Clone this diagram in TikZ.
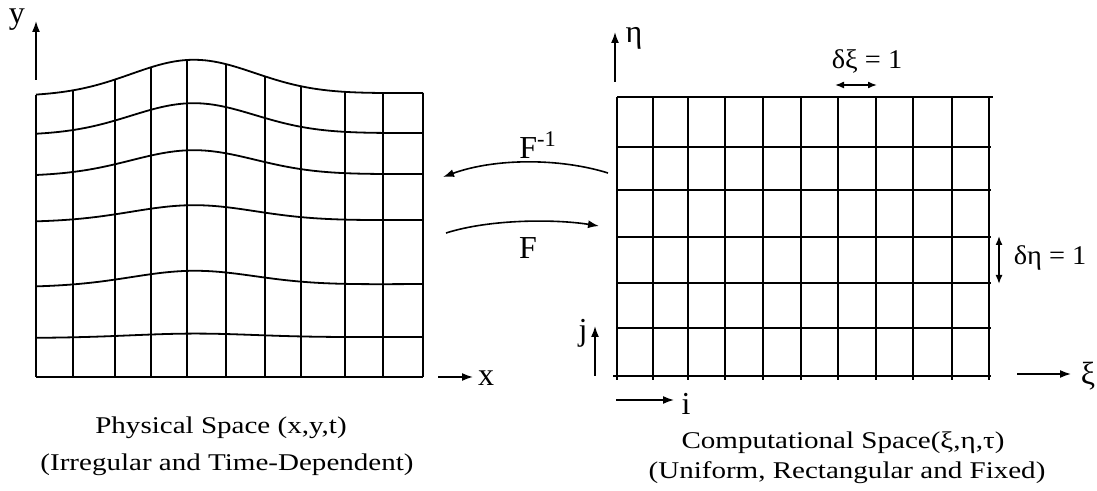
\documentclass[tikz,border=0pt]{standalone}
\usepackage{fontspec}
\setmainfont{Liberation Serif}
\usetikzlibrary{arrows.meta}
\begin{document}
\begin{tikzpicture}[x=0.5pt,y=-0.5pt,
  declare function={g(\t)=exp(-0.5*((\t-193)/62)^2);
    cy(\t,\l,\r,\a)=\l+(\r-\l)*(\t-36)/387-\a*g(\t);},
  gridl/.style={line width=0.9pt},
  gridr/.style={line width=0.8pt},
  ax/.style={line width=0.8pt,-{Latex[length=5.5pt,width=4pt]}},
  dax/.style={line width=0.8pt,{Latex[length=4.5pt,width=3.5pt]}-{Latex[length=4.5pt,width=3.5pt]}},
  lbl/.style={inner sep=0pt,font=\fontsize{16}{19}\selectfont},
  mlbl/.style={inner sep=0pt,font=\fontsize{13.5}{16}\selectfont,xscale=1.05},
  captxt/.style={inner sep=0pt,anchor=base,xscale=1.21,font=\fontsize{12}{14}\selectfont}]
\useasboundingbox (0,0) rectangle (1097,491);

% ---------- Physical space grid ----------
\foreach \l/\r/\a in {96/93/35, 135/133/31, 176/174/25, 222/220/16, 287/284/15, 338/337/4}
  \draw[gridl] plot[domain=36:423, samples=90, smooth] (\x,{cy(\x,\l,\r,\a)});
\draw[gridl] (36,377) -- (423,377);
\foreach \v in {36,73,115,151,187,226,265,301,345,383,423}
  \draw[gridl] (\v,377) -- (\v,{cy(\v,96,93,35)});

% axes of physical space
\coordinate (y0) at (36,80);
\coordinate (y1) at (36,21);
\draw[ax] (y0) -- (y1);
\node[lbl] (ylab) at (17,20) {y};
\coordinate (x0) at (438,377);
\coordinate (x1) at (473,377);
\draw[ax] (x0) -- (x1);
\node[lbl] (xlab) at (486,378) {x};

% ---------- Computational space grid ----------
\foreach \v in {617,653,688,725,763,801,838,876,913,952,989}
  \draw[gridr] (\v,97) -- (\v,380);
\foreach \h in {147,190,237,283,328}
  \draw[gridr] (617,\h) -- (991,\h);
\draw[gridr] (617,97) -- (993,97);
\draw[gridr] (613,376) -- (991,376);

% axes of computational space
\coordinate (e0) at (615,82);
\coordinate (e1) at (615,32);
\draw[ax] (e0) -- (e1);
\node[lbl] (etalab) at (634,38) {η};
\coordinate (k0) at (1017,374);
\coordinate (k1) at (1071,374);
\draw[ax] (k0) -- (k1);
\node[lbl] (xilab) at (1088,376) {ξ};
\coordinate (j0) at (595,376);
\coordinate (j1) at (595,326);
\draw[ax] (j0) -- (j1);
\node[lbl] (jlab) at (583,333) {j};
\coordinate (i0) at (616,400);
\coordinate (i1) at (674,400);
\draw[ax] (i0) -- (i1);
\node[lbl] (ilab) at (686,404) {i};

% spacing markers
\coordinate (dx0) at (835,85);
\coordinate (dx1) at (877,85);
\draw[dax] (dx0) -- (dx1);
\node[mlbl] (dxi) at (867,61) {δξ = 1};
\coordinate (dy0) at (999,236);
\coordinate (dy1) at (999,284);
\draw[dax] (dy0) -- (dy1);
\node[mlbl] (deta) at (1050,258) {δη = 1};

% ---------- mappings ----------
\coordinate (fi0) at (608,173);
\coordinate (fi1) at (443,177);
\draw[ax] (fi0) .. controls (560,158) and (495,158) .. (fi1);
\node[lbl] (Finv) at (538,145) {F\textsuperscript{-1}};
\coordinate (f0) at (446,233);
\coordinate (f1) at (599,226);
\draw[ax] (f0) .. controls (490,219) and (555,219) .. (f1);
\node[lbl] (F) at (528,248) {F};

% ---------- captions ----------
\node[captxt] (phys) at (221,433) {Physical Space (x,y,t)};
\node[captxt] (physd) at (227,470) {(Irregular and Time-Dependent)};
\node[captxt] (comp) at (843,448) {Computational Space(ξ,η,τ)};
\node[captxt] (compd) at (847,478) {(Uniform, Rectangular and Fixed)};
\end{tikzpicture}
\end{document}
